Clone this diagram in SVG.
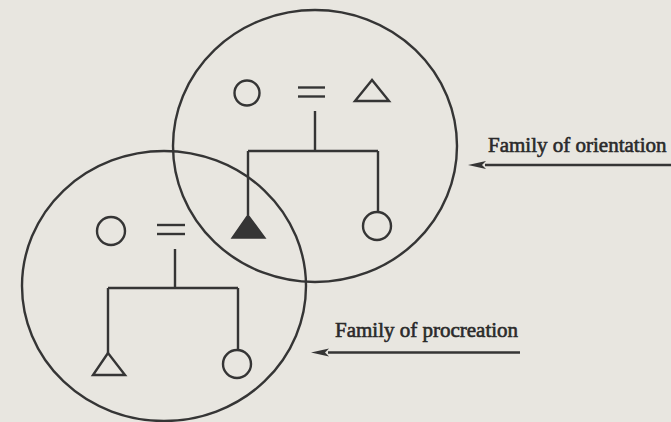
<svg xmlns="http://www.w3.org/2000/svg" width="671" height="422" viewBox="0 0 671 422">
  <defs>
    <style>
      .ln { fill: none; stroke: #353535; stroke-width: 2.4; stroke-linecap: butt; }
      .sym { fill: none; stroke: #353535; stroke-width: 2.4; }
      .fill { fill: #353535; stroke: #353535; stroke-width: 1.5; stroke-linejoin: miter; }
      .lbl { font-family: "Liberation Serif", "Times New Roman", serif; font-size: 21px; fill: #2a2a2a; stroke: #2a2a2a; stroke-width: 0.6; }
    </style>
    <marker id="ah" viewBox="0 0 18 10" refX="1" refY="5" markerWidth="18" markerHeight="10" markerUnits="userSpaceOnUse" orient="auto-start-reverse">
      <path d="M18,5 L0,1 L4,5 L0,9 Z" fill="#353535"/>
    </marker>
  </defs>
  <rect width="671" height="422" fill="#e8e6e0"/>

  <g id="circle-orientation">
    <ellipse class="ln" cx="315" cy="146" rx="142" ry="136"/>
  </g>
  <g id="circle-procreation">
    <ellipse class="ln" cx="164" cy="286" rx="142" ry="135"/>
  </g>

  <g id="orientation-mother">
    <circle class="sym" cx="247" cy="93" r="12.5"/>
  </g>
  <g id="orientation-marriage">
    <line class="ln" x1="298" y1="87.5" x2="325" y2="87.5"/>
    <line class="ln" x1="298" y1="96.5" x2="325" y2="96.5"/>
  </g>
  <g id="orientation-father">
    <polygon class="sym" points="372,80 355,101 389,101"/>
  </g>
  <g id="ego">
    <polygon class="fill" points="248,215 232,238 265,238"/>
  </g>
  <g id="orientation-sister">
    <circle class="sym" cx="377" cy="226" r="14"/>
  </g>

  <g id="procreation-wife">
    <circle class="sym" cx="111" cy="231" r="14"/>
  </g>
  <g id="procreation-marriage">
    <line class="ln" x1="157" y1="225" x2="185" y2="225"/>
    <line class="ln" x1="157" y1="234" x2="185" y2="234"/>
  </g>
  <g id="procreation-son">
    <polygon class="sym" points="108,353 93,375 125,375"/>
  </g>
  <g id="procreation-daughter">
    <circle class="sym" cx="237" cy="364" r="14"/>
  </g>

  <g id="connectors">
    <path class="ln" d="M315,111 V151 M248,151 H378 M248,151 V215 M378,151 V212"/>
    <path class="ln" d="M175,249 V288 M108,288 H238 M108,288 V353 M238,288 V350"/>
    <line class="ln" x1="671" y1="165" x2="485" y2="165" marker-end="url(#ah)"/>
    <line class="ln" x1="520" y1="352.5" x2="328" y2="352.5" marker-end="url(#ah)"/>
  </g>

  <g id="label-orientation">
    <text class="lbl" x="488" y="151.5">Family of orientation</text>
  </g>
  <g id="label-procreation">
    <text class="lbl" x="335" y="337">Family of procreation</text>
  </g>
</svg>
